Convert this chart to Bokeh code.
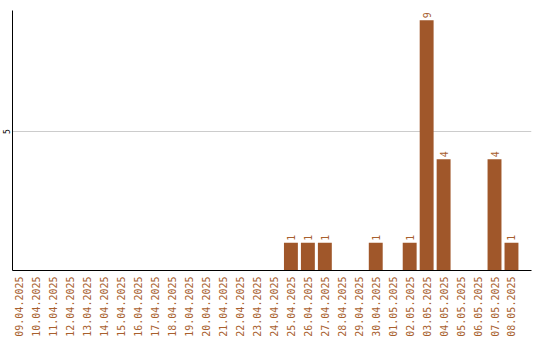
import math
from bokeh.plotting import figure
from bokeh.models import Range1d, FixedTicker, ColumnDataSource
from bokeh.core.properties import value
from bokeh.embed import file_html
from bokeh.resources import INLINE

dates = ["09.04.2025", "10.04.2025", "11.04.2025", "12.04.2025", "13.04.2025",
         "14.04.2025", "15.04.2025", "16.04.2025", "17.04.2025", "18.04.2025",
         "19.04.2025", "20.04.2025", "21.04.2025", "22.04.2025", "23.04.2025",
         "24.04.2025", "25.04.2025", "26.04.2025", "27.04.2025", "28.04.2025",
         "29.04.2025", "30.04.2025", "01.05.2025", "02.05.2025", "03.05.2025",
         "04.05.2025", "05.05.2025", "06.05.2025", "07.05.2025", "08.05.2025"]
counts = [0, 0, 0, 0, 0, 0, 0, 0, 0, 0, 0, 0, 0, 0, 0,
          0, 1, 1, 1, 0, 0, 1, 0, 1, 9, 4, 0, 0, 4, 1]
y_ticks = [5]

BAR = "#A0572A"
LABEL = "#A8602E"

xs = [i + 0.41 for i in range(len(dates))]
nz = [(x, c) for x, c in zip(xs, counts) if c > 0]
src = ColumnDataSource(dict(x=xs, top=counts))
lsrc = ColumnDataSource(dict(x=[a for a, _ in nz], y=[b for _, b in nz],
                             t=[str(b) for _, b in nz]))

p = figure(width=540, height=340, output_backend="svg", toolbar_location=None,
           x_range=Range1d(0, 30.59), y_range=Range1d(0, 9.35),
           min_border_left=11, min_border_right=9, min_border_top=10,
           min_border_bottom=70)
p.outline_line_color = None
p.background_fill_color = "white"
p.border_fill_color = "white"

p.vbar(x="x", top="top", width=0.82, source=src, fill_color=BAR, line_color=None)
p.text(x="x", y="y", text="t", source=lsrc, angle=math.pi / 2, y_offset=-2,
       text_align="left", text_baseline="middle", text_color=LABEL,
       text_font=value("DejaVu Sans Mono"), text_font_size="10px")

p.xgrid.grid_line_color = None
p.ygrid.grid_line_color = "#cccccc"
p.ygrid.ticker = FixedTicker(ticks=y_ticks)

xa = p.xaxis[0]
xa.ticker = FixedTicker(ticks=xs)
xa.major_label_overrides = {x: d for x, d in zip(xs, dates)}
xa.major_label_orientation = math.pi / 2
xa.major_label_text_color = LABEL
xa.major_label_text_font = "DejaVu Sans Mono"
xa.major_label_text_font_size = "10px"
xa.major_tick_line_color = None
xa.minor_tick_line_color = None
xa.major_tick_out = 0
xa.major_tick_in = 0
xa.major_label_standoff = 6
xa.axis_line_color = "black"

ya = p.yaxis[0]
ya.ticker = FixedTicker(ticks=y_ticks)
ya.major_label_orientation = "vertical"
ya.major_label_text_font = "DejaVu Sans Mono"
ya.major_label_text_font_size = "8px"
ya.major_label_text_color = "black"
ya.major_tick_line_color = None
ya.minor_tick_line_color = None
ya.major_tick_out = 0
ya.major_tick_in = 0
ya.major_label_standoff = 2
ya.axis_line_color = "black"

open("out.html", "w").write(file_html(p, INLINE))
